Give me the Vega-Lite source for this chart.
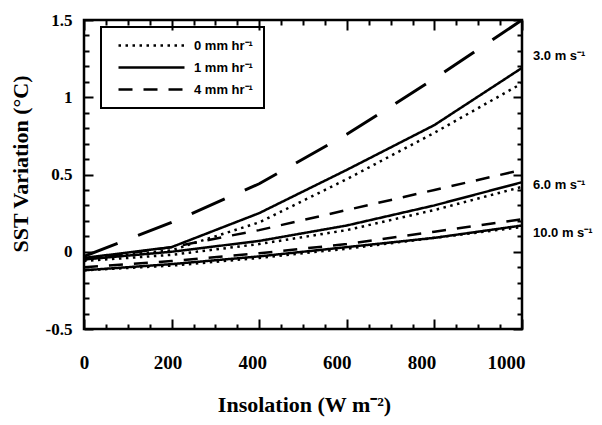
{
  "$schema": "https://vega.github.io/schema/vega-lite/v6.json",
  "width": 438,
  "height": 309,
  "autosize": "none",
  "padding": {"left": 84, "top": 20, "right": 80, "bottom": 96},
  "background": "white",
  "config": {
    "view": {"stroke": "black", "strokeWidth": 2.5},
    "legend": {"strokeWidth": 2}
  },
  "datasets": {
    "lines": [
      {"insolation": 0, "sst": -0.05, "wind": "3.0", "rain": "0 mm hr⁻¹"},
      {"insolation": 200, "sst": 0.01, "wind": "3.0", "rain": "0 mm hr⁻¹"},
      {"insolation": 400, "sst": 0.19, "wind": "3.0", "rain": "0 mm hr⁻¹"},
      {"insolation": 600, "sst": 0.47, "wind": "3.0", "rain": "0 mm hr⁻¹"},
      {"insolation": 800, "sst": 0.77, "wind": "3.0", "rain": "0 mm hr⁻¹"},
      {"insolation": 1000, "sst": 1.09, "wind": "3.0", "rain": "0 mm hr⁻¹"},
      {"insolation": 0, "sst": -0.04, "wind": "3.0", "rain": "1 mm hr⁻¹"},
      {"insolation": 200, "sst": 0.03, "wind": "3.0", "rain": "1 mm hr⁻¹"},
      {"insolation": 400, "sst": 0.25, "wind": "3.0", "rain": "1 mm hr⁻¹"},
      {"insolation": 600, "sst": 0.53, "wind": "3.0", "rain": "1 mm hr⁻¹"},
      {"insolation": 800, "sst": 0.82, "wind": "3.0", "rain": "1 mm hr⁻¹"},
      {"insolation": 1000, "sst": 1.19, "wind": "3.0", "rain": "1 mm hr⁻¹"},
      {"insolation": 0, "sst": -0.03, "wind": "3.0", "rain": "4 mm hr⁻¹"},
      {"insolation": 200, "sst": 0.19, "wind": "3.0", "rain": "4 mm hr⁻¹"},
      {"insolation": 400, "sst": 0.44, "wind": "3.0", "rain": "4 mm hr⁻¹"},
      {"insolation": 600, "sst": 0.76, "wind": "3.0", "rain": "4 mm hr⁻¹"},
      {"insolation": 800, "sst": 1.12, "wind": "3.0", "rain": "4 mm hr⁻¹"},
      {"insolation": 1000, "sst": 1.5, "wind": "3.0", "rain": "4 mm hr⁻¹"},
      {"insolation": 0, "sst": -0.06, "wind": "6.0", "rain": "0 mm hr⁻¹"},
      {"insolation": 200, "sst": -0.02, "wind": "6.0", "rain": "0 mm hr⁻¹"},
      {"insolation": 400, "sst": 0.05, "wind": "6.0", "rain": "0 mm hr⁻¹"},
      {"insolation": 600, "sst": 0.14, "wind": "6.0", "rain": "0 mm hr⁻¹"},
      {"insolation": 800, "sst": 0.27, "wind": "6.0", "rain": "0 mm hr⁻¹"},
      {"insolation": 1000, "sst": 0.42, "wind": "6.0", "rain": "0 mm hr⁻¹"},
      {"insolation": 0, "sst": -0.05, "wind": "6.0", "rain": "1 mm hr⁻¹"},
      {"insolation": 200, "sst": 0.0, "wind": "6.0", "rain": "1 mm hr⁻¹"},
      {"insolation": 400, "sst": 0.07, "wind": "6.0", "rain": "1 mm hr⁻¹"},
      {"insolation": 600, "sst": 0.17, "wind": "6.0", "rain": "1 mm hr⁻¹"},
      {"insolation": 800, "sst": 0.3, "wind": "6.0", "rain": "1 mm hr⁻¹"},
      {"insolation": 1000, "sst": 0.45, "wind": "6.0", "rain": "1 mm hr⁻¹"},
      {"insolation": 0, "sst": -0.05, "wind": "6.0", "rain": "4 mm hr⁻¹"},
      {"insolation": 200, "sst": 0.03, "wind": "6.0", "rain": "4 mm hr⁻¹"},
      {"insolation": 400, "sst": 0.14, "wind": "6.0", "rain": "4 mm hr⁻¹"},
      {"insolation": 600, "sst": 0.27, "wind": "6.0", "rain": "4 mm hr⁻¹"},
      {"insolation": 800, "sst": 0.4, "wind": "6.0", "rain": "4 mm hr⁻¹"},
      {"insolation": 1000, "sst": 0.53, "wind": "6.0", "rain": "4 mm hr⁻¹"},
      {"insolation": 0, "sst": -0.12, "wind": "10.0", "rain": "0 mm hr⁻¹"},
      {"insolation": 200, "sst": -0.09, "wind": "10.0", "rain": "0 mm hr⁻¹"},
      {"insolation": 400, "sst": -0.04, "wind": "10.0", "rain": "0 mm hr⁻¹"},
      {"insolation": 600, "sst": 0.02, "wind": "10.0", "rain": "0 mm hr⁻¹"},
      {"insolation": 800, "sst": 0.09, "wind": "10.0", "rain": "0 mm hr⁻¹"},
      {"insolation": 1000, "sst": 0.16, "wind": "10.0", "rain": "0 mm hr⁻¹"},
      {"insolation": 0, "sst": -0.12, "wind": "10.0", "rain": "1 mm hr⁻¹"},
      {"insolation": 200, "sst": -0.08, "wind": "10.0", "rain": "1 mm hr⁻¹"},
      {"insolation": 400, "sst": -0.03, "wind": "10.0", "rain": "1 mm hr⁻¹"},
      {"insolation": 600, "sst": 0.03, "wind": "10.0", "rain": "1 mm hr⁻¹"},
      {"insolation": 800, "sst": 0.09, "wind": "10.0", "rain": "1 mm hr⁻¹"},
      {"insolation": 1000, "sst": 0.17, "wind": "10.0", "rain": "1 mm hr⁻¹"},
      {"insolation": 0, "sst": -0.1, "wind": "10.0", "rain": "4 mm hr⁻¹"},
      {"insolation": 200, "sst": -0.06, "wind": "10.0", "rain": "4 mm hr⁻¹"},
      {"insolation": 400, "sst": -0.01, "wind": "10.0", "rain": "4 mm hr⁻¹"},
      {"insolation": 600, "sst": 0.05, "wind": "10.0", "rain": "4 mm hr⁻¹"},
      {"insolation": 800, "sst": 0.13, "wind": "10.0", "rain": "4 mm hr⁻¹"},
      {"insolation": 1000, "sst": 0.21, "wind": "10.0", "rain": "4 mm hr⁻¹"}
    ],
    "labels": [
      {"insolation": 1000, "sst": 1.27, "label": "3.0 m s⁻¹"},
      {"insolation": 1000, "sst": 0.435, "label": "6.0 m s⁻¹"},
      {"insolation": 1000, "sst": 0.12, "label": "10.0 m s⁻¹"}
    ]
  },
  "layer": [
    {
      "data": {"name": "lines"},
      "transform": [{"filter": "!(datum.wind == '3.0' && datum.rain == '4 mm hr⁻¹')"}],
      "mark": {"type": "line", "color": "black", "strokeWidth": 2.5, "strokeCap": "butt"},
      "encoding": {
        "x": {
          "field": "insolation", "type": "quantitative",
          "scale": {"domain": [0, 1000], "nice": false, "zero": false},
          "axis": {
            "orient": "bottom", "values": [0, 200, 400, 600, 800, 1000],
            "domain": false, "grid": false,
            "tickSize": -10, "tickWidth": 2, "tickColor": "black",
            "labelFont": "Liberation Serif", "labelFontSize": 19, "labelFontWeight": "bold", "labelColor": "black",
            "labelPadding": 34, "labelFlush": false, "labelOverlap": false,
            "labelExpr": "'' + datum.value",
            "labelOffset": {"condition": [
              {"test": "datum.value == 200", "value": -4},
              {"test": "datum.value == 400", "value": -7},
              {"test": "datum.value == 600", "value": -10},
              {"test": "datum.value == 800", "value": -13},
              {"test": "datum.value == 1000", "value": -16}
            ], "value": 0},
            "title": "Insolation (W m⁻²)",
            "titleFont": "Liberation Serif", "titleFontSize": 22, "titleFontWeight": "bold", "titleColor": "black",
            "titleBaseline": "alphabetic", "titleX": 220, "titleY": 82
          }
        },
        "y": {
          "field": "sst", "type": "quantitative",
          "scale": {"domain": [-0.5, 1.5], "nice": false, "zero": false},
          "axis": {
            "orient": "left", "values": [-0.5, 0, 0.5, 1, 1.5],
            "domain": false, "grid": false,
            "tickSize": -9, "tickWidth": 2, "tickColor": "black",
            "labelFont": "Liberation Serif", "labelFontSize": 17, "labelFontWeight": "bold", "labelColor": "black",
            "labelPadding": 21, "labelExpr": "'' + datum.value", "labelOverlap": false,
            "title": "SST Variation (°C)",
            "titleFont": "Liberation Serif", "titleFontSize": 22, "titleFontWeight": "bold", "titleColor": "black",
            "titleBaseline": "alphabetic", "titleAngle": 270, "titleX": -57, "titleY": 143.5
          }
        },
        "detail": {"field": "wind", "type": "nominal"},
        "strokeDash": {
          "field": "rain", "type": "nominal",
          "scale": {"domain": ["0 mm hr⁻¹", "1 mm hr⁻¹", "4 mm hr⁻¹"], "range": [[2.5, 4.5], [1, 0], [14, 11]]},
          "legend": {
            "orient": "none", "legendX": 17, "legendY": 7, "title": null,
            "symbolType": "M-5.5,0H5.5", "symbolSize": 144, "symbolStrokeWidth": 2.5,
            "symbolStrokeColor": "black", "symbolFillColor": "transparent",
            "symbolOffset": 32, "labelOffset": 35,
            "labelFont": "Liberation Sans", "labelFontSize": 13, "labelFontWeight": "bold", "labelColor": "black",
            "rowPadding": 7, "padding": 11, "strokeColor": "black"
          }
        }
      }
    },
    {
      "data": {"name": "lines"},
      "transform": [{"filter": "datum.wind == '3.0' && datum.rain == '4 mm hr⁻¹'"}],
      "mark": {"type": "line", "color": "black", "strokeWidth": 3, "strokeCap": "butt", "strokeDash": [36, 22], "clip": true},
      "encoding": {
        "x": {"field": "insolation", "type": "quantitative", "scale": {"domain": [0, 1000], "nice": false, "zero": false}, "axis": null},
        "y": {"field": "sst", "type": "quantitative", "scale": {"domain": [-0.5, 1.5], "nice": false, "zero": false}, "axis": null}
      }
    },
    {
      "data": {"name": "lines"},
      "mark": {"type": "point", "opacity": 0},
      "encoding": {
        "x": {"field": "insolation", "type": "quantitative", "scale": {"domain": [0, 1000], "nice": false, "zero": false},
          "axis": {"orient": "top", "values": [0, 200, 400, 600, 800, 1000], "domain": false, "grid": false, "labels": false, "title": null, "tickSize": -10, "tickWidth": 2, "tickColor": "black"}},
        "y": {"field": "sst", "type": "quantitative", "scale": {"domain": [-0.5, 1.5], "nice": false, "zero": false},
          "axis": {"orient": "right", "values": [-0.5, 0, 0.5, 1, 1.5], "domain": false, "grid": false, "labels": false, "title": null, "tickSize": -9, "tickWidth": 2, "tickColor": "black"}}
      }
    },
    {
      "data": {"name": "lines"},
      "mark": {"type": "point", "opacity": 0},
      "encoding": {
        "x": {"field": "insolation", "type": "quantitative", "scale": {"domain": [0, 1000], "nice": false, "zero": false},
          "axis": {"orient": "bottom", "values": [50, 100, 150, 250, 300, 350, 450, 500, 550, 650, 700, 750, 850, 900, 950], "domain": false, "grid": false, "labels": false, "title": null, "tickSize": -5, "tickWidth": 2, "tickColor": "black"}},
        "y": {"field": "sst", "type": "quantitative", "scale": {"domain": [-0.5, 1.5], "nice": false, "zero": false},
          "axis": {"orient": "left", "values": [-0.4, -0.3, -0.2, -0.1, 0.1, 0.2, 0.3, 0.4, 0.6, 0.7, 0.8, 0.9, 1.1, 1.2, 1.3, 1.4], "domain": false, "grid": false, "labels": false, "title": null, "tickSize": -5, "tickWidth": 2, "tickColor": "black"}}
      }
    },
    {
      "data": {"name": "lines"},
      "mark": {"type": "point", "opacity": 0},
      "encoding": {
        "x": {"field": "insolation", "type": "quantitative", "scale": {"domain": [0, 1000], "nice": false, "zero": false},
          "axis": {"orient": "top", "values": [50, 100, 150, 250, 300, 350, 450, 500, 550, 650, 700, 750, 850, 900, 950], "domain": false, "grid": false, "labels": false, "title": null, "tickSize": -5, "tickWidth": 2, "tickColor": "black"}},
        "y": {"field": "sst", "type": "quantitative", "scale": {"domain": [-0.5, 1.5], "nice": false, "zero": false},
          "axis": {"orient": "right", "values": [-0.4, -0.3, -0.2, -0.1, 0.1, 0.2, 0.3, 0.4, 0.6, 0.7, 0.8, 0.9, 1.1, 1.2, 1.3, 1.4], "domain": false, "grid": false, "labels": false, "title": null, "tickSize": -5, "tickWidth": 2, "tickColor": "black"}}
      }
    },
    {
      "data": {"name": "labels"},
      "mark": {"type": "text", "align": "left", "baseline": "middle", "dx": 11, "font": "Liberation Sans", "fontSize": 13, "fontWeight": "bold", "color": "black"},
      "encoding": {
        "x": {"field": "insolation", "type": "quantitative", "scale": {"domain": [0, 1000], "nice": false, "zero": false}, "axis": null},
        "y": {"field": "sst", "type": "quantitative", "scale": {"domain": [-0.5, 1.5], "nice": false, "zero": false}, "axis": null},
        "text": {"field": "label", "type": "nominal"}
      }
    }
  ],
  "resolve": {"axis": {"x": "independent", "y": "independent"}}
}
